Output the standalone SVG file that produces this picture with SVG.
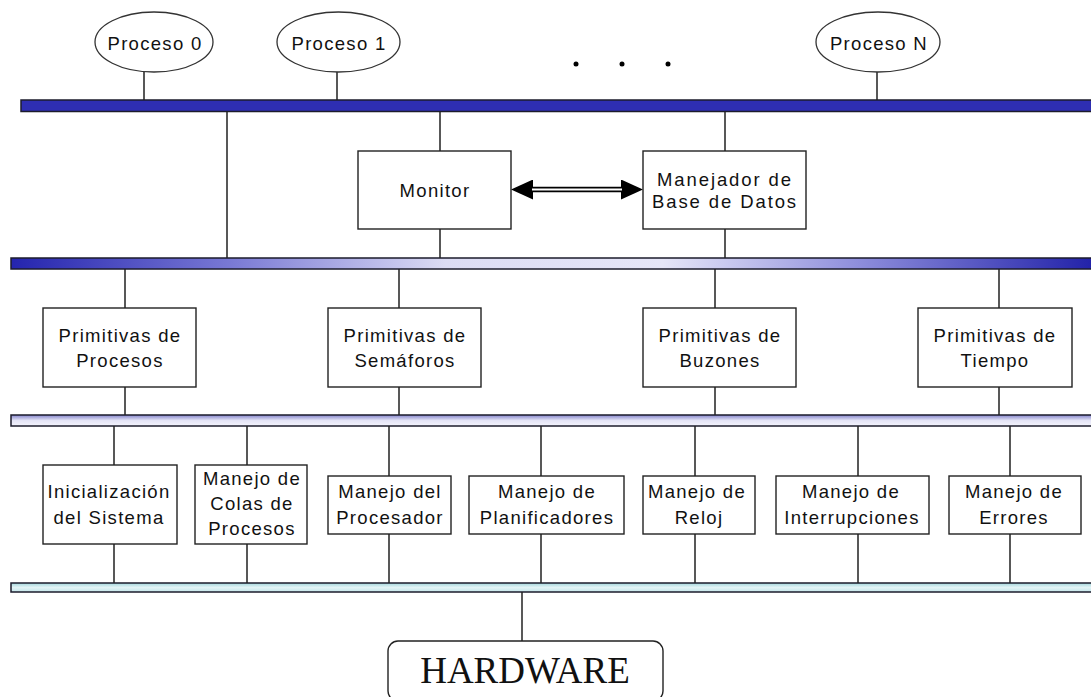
<svg xmlns="http://www.w3.org/2000/svg" width="1091" height="697" viewBox="0 0 1091 697">
<defs>
<style>
.t{font-family:"Liberation Sans",Arial,sans-serif;font-size:18.5px;letter-spacing:1.3px;fill:#111;text-anchor:middle}
.w{letter-spacing:1.9px}
.hw{font-family:"Liberation Serif","Times New Roman",serif;font-size:37px;fill:#111;text-anchor:middle}
.box{fill:#fff;stroke:#222;stroke-width:1.4}
.ell{fill:#fff;stroke:#333;stroke-width:1.3}
.bus{stroke:#1c1c2c;stroke-width:1.5}
.ln{stroke:#222;stroke-width:1.5;fill:none}
</style>
<linearGradient id="g2" x1="0" y1="0" x2="1" y2="0">
<stop offset="0" stop-color="#2424ae"/>
<stop offset="0.2" stop-color="#7878d4"/>
<stop offset="0.4" stop-color="#dcdcf4"/>
<stop offset="0.6" stop-color="#e6e6f8"/>
<stop offset="0.78" stop-color="#8e8edc"/>
<stop offset="1" stop-color="#2020a8"/>
</linearGradient>
<linearGradient id="g3" x1="0" y1="0" x2="0" y2="1">
<stop offset="0" stop-color="#8484cc"/>
<stop offset="0.5" stop-color="#e4e4f6"/>
<stop offset="1" stop-color="#f4f4fc"/>
</linearGradient>
<linearGradient id="g4" x1="0" y1="0" x2="0" y2="1">
<stop offset="0" stop-color="#a4d6dc"/>
<stop offset="0.5" stop-color="#e2f4f6"/>
<stop offset="1" stop-color="#c4e6ea"/>
</linearGradient>
<marker id="ah" viewBox="0 0 22 20" refX="0" refY="10" markerWidth="22" markerHeight="20" markerUnits="userSpaceOnUse" orient="auto-start-reverse">
<path d="M0,0 L22,10 L0,20 z" fill="#000"/>
</marker>
</defs>
<rect width="1091" height="697" fill="#fff"/>

<g id="buses">
<rect id="bus1" class="bus" x="21" y="100" width="1076" height="11.5" fill="#2e2eb2"/>
<rect id="bus2" class="bus" x="11" y="258" width="1086" height="11" fill="url(#g2)"/>
<rect id="bus3" class="bus" x="11" y="415" width="1086" height="11" fill="url(#g3)"/>
<rect id="bus4" class="bus" x="11" y="583" width="1086" height="9" fill="url(#g4)"/>
</g>

<g id="connectors" class="ln">
<path d="M144,72 V100 M337,72 V100 M877,72 V100"/>
<path d="M227,111.5 V258 M440,111.5 V151 M440,229 V258 M725,111.5 V151 M725,229 V258"/>
<path d="M125,269 V308 M125,387 V415 M399,269 V308 M399,387 V415 M715,269 V308 M715,387 V415 M999,269 V308 M999,387 V415"/>
<path d="M114,426 V465 M114,544 V583 M247,426 V465 M247,544 V583"/>
<path d="M389,426 V476 M389,534 V583 M541,426 V476 M541,534 V583 M695,426 V476 M695,534 V583 M858,426 V476 M858,534 V583 M1010,426 V476 M1010,534 V583"/>
<path d="M522,592 V641"/>
<g id="arrow-monitor-bd">
<path d="M533,189.5 H621" stroke="#000" stroke-width="5.5" marker-start="url(#ah)" marker-end="url(#ah)"/>
<path d="M532,189.5 H622" stroke="#fff" stroke-width="2.2"/>
</g>
</g>

<g id="proceso0"><ellipse class="ell" cx="154" cy="42" rx="59" ry="30"/><text class="t" x="155" y="50">Proceso 0</text></g>
<g id="proceso1"><ellipse class="ell" cx="338.5" cy="42" rx="61.5" ry="30"/><text class="t" x="339" y="50">Proceso 1</text></g>
<g id="procesoN"><ellipse class="ell" cx="878" cy="42" rx="62" ry="30"/><text class="t" x="879" y="50">Proceso N</text></g>
<g id="dots" fill="#000"><circle cx="576" cy="64" r="2.5"/><circle cx="622" cy="64" r="2.5"/><circle cx="668" cy="64" r="2.5"/></g>

<g id="monitor"><rect class="box" x="358" y="151" width="153" height="78"/><text class="t" x="435" y="197">Monitor</text></g>
<g id="manejador-bd"><rect class="box" x="643" y="151" width="163" height="78"/><text class="t w" x="725" y="186">Manejador de</text><text class="t w" x="725" y="208">Base de Datos</text></g>

<g id="prim-procesos"><rect class="box" x="43" y="308" width="153" height="79"/><text class="t" x="120" y="342">Primitivas de</text><text class="t" x="120" y="367">Procesos</text></g>
<g id="prim-semaforos"><rect class="box" x="328" y="308" width="153" height="79"/><text class="t" x="405" y="342">Primitivas de</text><text class="t" x="405" y="367">Semáforos</text></g>
<g id="prim-buzones"><rect class="box" x="643" y="308" width="153" height="79"/><text class="t" x="720" y="342">Primitivas de</text><text class="t" x="720" y="367">Buzones</text></g>
<g id="prim-tiempo"><rect class="box" x="918" y="308" width="154" height="79"/><text class="t" x="995" y="342">Primitivas de</text><text class="t" x="995" y="367">Tiempo</text></g>

<g id="inicializacion"><rect class="box" x="43" y="465" width="134" height="79"/><text class="t" x="109" y="498">Inicialización</text><text class="t" x="109" y="524">del Sistema</text></g>
<g id="colas"><rect class="box" x="195" y="465" width="112" height="79"/><text class="t" x="252" y="485">Manejo de</text><text class="t" x="252" y="510">Colas de</text><text class="t" x="252" y="535">Procesos</text></g>
<g id="procesador"><rect class="box" x="328" y="476" width="123" height="58"/><text class="t" x="390" y="498">Manejo del</text><text class="t" x="390" y="524">Procesador</text></g>
<g id="planificadores"><rect class="box" x="469" y="476" width="155" height="58"/><text class="t" x="547" y="498">Manejo de</text><text class="t" x="547" y="524">Planificadores</text></g>
<g id="reloj"><rect class="box" x="643" y="476" width="112" height="58"/><text class="t" x="697" y="498">Manejo de</text><text class="t" x="699" y="524">Reloj</text></g>
<g id="interrupciones"><rect class="box" x="776" y="476" width="153" height="58"/><text class="t" x="851" y="498">Manejo de</text><text class="t" x="852" y="524">Interrupciones</text></g>
<g id="errores"><rect class="box" x="949" y="476" width="132" height="58"/><text class="t" x="1014" y="498">Manejo de</text><text class="t" x="1014" y="524">Errores</text></g>

<g id="hardware"><rect class="box" x="388" y="641" width="275" height="60" rx="10"/><text class="hw" x="525" y="683">HARDWARE</text></g>
</svg>
